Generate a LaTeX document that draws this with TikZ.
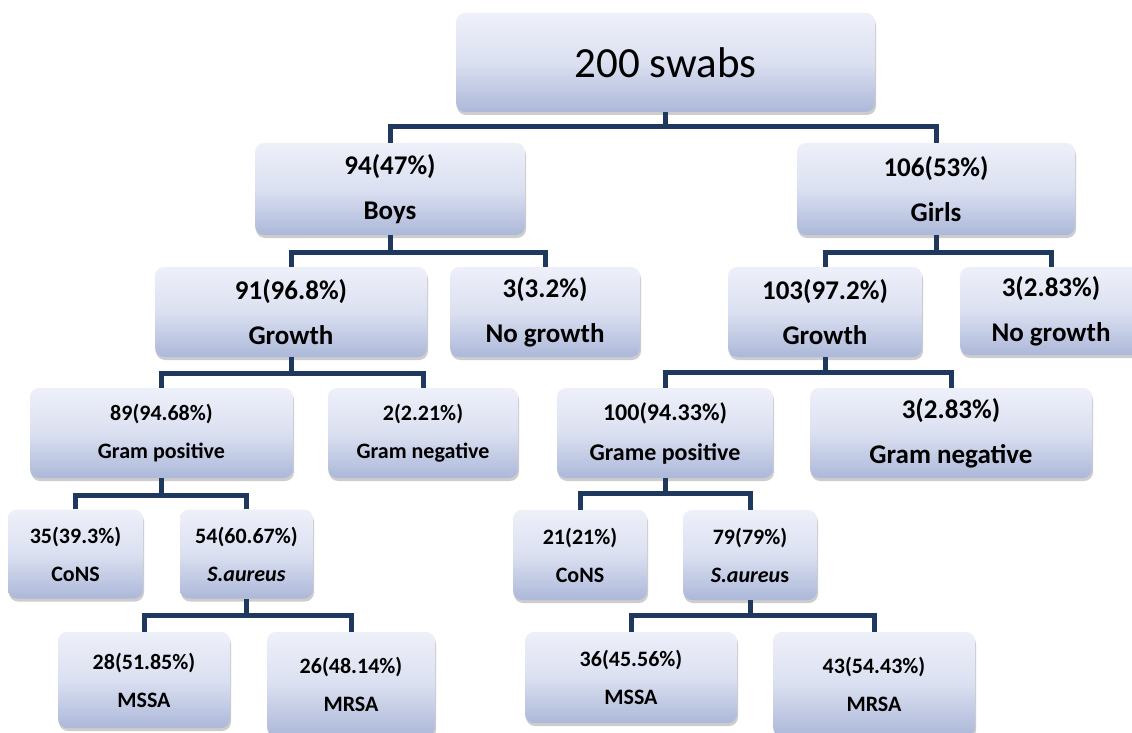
\documentclass[tikz,border=0pt]{standalone}
\usepackage{fontspec}
\setmainfont{Carlito}
\usetikzlibrary{shadows}
\definecolor{conncol}{RGB}{31,56,94}
\definecolor{btop}{RGB}{238,240,249}
\definecolor{bmid}{RGB}{219,224,241}
\definecolor{bbot}{RGB}{172,184,217}
\tikzset{
  box/.style={rounded corners=9pt, top color=btop, bottom color=bbot, middle color=bmid,
    draw=none, align=center, inner sep=0pt,
    drop shadow={shadow xshift=1pt, shadow yshift=-3pt, opacity=0.28, fill=black!70},
    font=\bfseries\fontsize{22}{38}\selectfont},
  big/.style={font=\bfseries\fontsize{27}{45}\selectfont},
  midf/.style={font=\bfseries\fontsize{24}{40}\selectfont},
  link/.style={draw=conncol, line width=5pt, line join=miter},
}
\begin{document}
\begin{tikzpicture}[x=1pt, y=-1pt]
\useasboundingbox (0,0) rectangle (1132,733);
\fill[white] (0,0) rectangle (1132,733);

% level 1
\node[box, minimum width=419pt, minimum height=99pt, font=\fontsize{43}{50}\selectfont] (top) at (665.5,62.5) {200 swabs};

% level 2
\node[box, big, minimum width=270pt, minimum height=92pt] (boys) at (390,189) {94(47\%)\\Boys};
\node[box, big, minimum width=278pt, minimum height=92pt] (girls) at (936,189) {106(53\%)\\Girls};

% level 3
\node[box, big, minimum width=272pt, minimum height=90pt] (bgrow) at (291,312) {91(96.8\%)\\Growth};
\node[box, big, minimum width=190pt, minimum height=90pt] (bnog) at (545,312) {3(3.2\%)\\No growth};
\node[box, big, minimum width=194pt, minimum height=90pt] (ggrow) at (825,312) {103(97.2\%)\\Growth};
\node[box, big, minimum width=182pt, minimum height=88pt] (gnog) at (1051,311) {3(2.83\%)\\No growth};

% level 4
\node[box, minimum width=263pt, minimum height=90pt] (bpos) at (161.5,433) {89(94.68\%)\\Gram positive};
\node[box, minimum width=190pt, minimum height=90pt] (bneg) at (423,433) {2(2.21\%)\\Gram negative};
\node[box, midf, minimum width=216pt, minimum height=90pt] (gpos) at (665,433) {100(94.33\%)\\Grame positive};
\node[box, big, minimum width=282pt, minimum height=90pt] (gneg) at (951,433) {3(2.83\%)\\Gram negative};

% level 5
\node[box, minimum width=135pt, minimum height=89pt] (bcons) at (75.5,554) {35(39.3\%)\\CoNS};
\node[box, minimum width=133pt, minimum height=89pt] (bsa) at (246.5,554) {54(60.67\%)\\\textit{S.aureus}};
\node[box, minimum width=134pt, minimum height=90pt] (gcons) at (580,555) {21(21\%)\\CoNS};
\node[box, minimum width=134pt, minimum height=90pt] (gsa) at (750,555) {79(79\%)\\\textit{S.aureu}s};

% level 6
\node[box, minimum width=172pt, minimum height=96pt] (bmssa) at (144,680) {28(51.85\%)\\MSSA};
\node[box, minimum width=168pt, minimum height=104pt] (bmrsa) at (351,684) {26(48.14\%)\\MRSA};
\node[box, minimum width=212pt, minimum height=91pt] (gmssa) at (631,677.5) {36(45.56\%)\\MSSA};
\node[box, minimum width=202pt, minimum height=104pt] (gmrsa) at (874,684) {43(54.43\%)\\MRSA};

% connectors
\draw[link] (top.south) -- (top.south |- 0,127);
\draw[link] (boys.north) -- (boys.north |- 0,127) -- (girls.north |- 0,127) -- (girls.north);

\draw[link] (boys.south) -- (boys.south |- 0,252);
\draw[link] (bgrow.north) -- (bgrow.north |- 0,252) -- (bnog.north |- 0,252) -- (bnog.north);
\draw[link] (girls.south) -- (girls.south |- 0,252);
\draw[link] (ggrow.north) -- (ggrow.north |- 0,252) -- (gnog.north |- 0,252) -- (gnog.north);

\draw[link] (bgrow.south) -- (bgrow.south |- 0,373);
\draw[link] (bpos.north) -- (bpos.north |- 0,373) -- (bneg.north |- 0,373) -- (bneg.north);
\draw[link] (ggrow.south) -- (ggrow.south |- 0,372);
\draw[link] (gpos.north) -- (gpos.north |- 0,372) -- (gneg.north |- 0,372) -- (gneg.north);

\draw[link] (bpos.south) -- (bpos.south |- 0,495);
\draw[link] (bcons.north) -- (bcons.north |- 0,495) -- (bsa.north |- 0,495) -- (bsa.north);
\draw[link] (gpos.south) -- (gpos.south |- 0,493);
\draw[link] (gcons.north) -- (gcons.north |- 0,493) -- (gsa.north |- 0,493) -- (gsa.north);

\draw[link] (bsa.south) -- (bsa.south |- 0,615);
\draw[link] (bmssa.north) -- (bmssa.north |- 0,615) -- (bmrsa.north |- 0,615) -- (bmrsa.north);
\draw[link] (gsa.south) -- (gsa.south |- 0,615);
\draw[link] (gmssa.north) -- (gmssa.north |- 0,615) -- (gmrsa.north |- 0,615) -- (gmrsa.north);
\end{tikzpicture}
\end{document}
